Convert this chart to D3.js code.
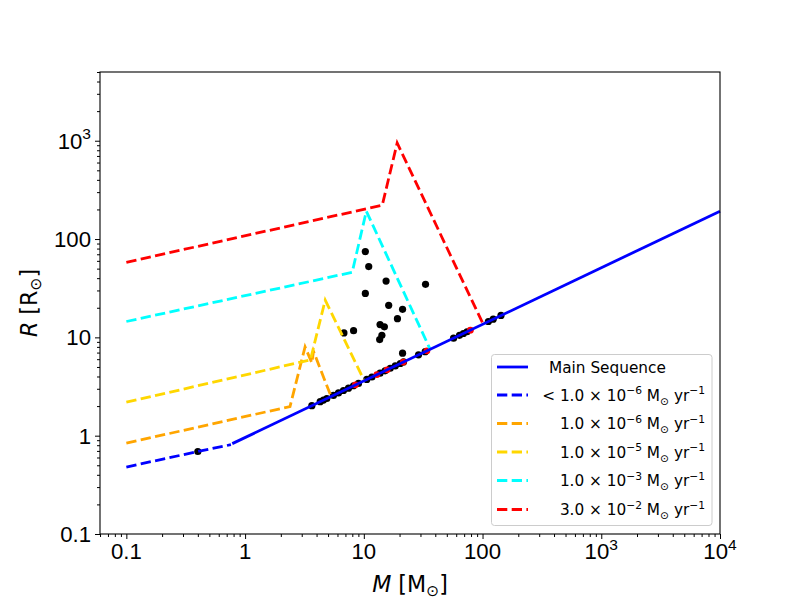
<!DOCTYPE html>
<html>
<head>
<meta charset="utf-8">
<script src="https://cdn.jsdelivr.net/npm/d3@7"></script>
<style>
  body { margin: 0; background: #fff; }
  svg { font-family: "DejaVu Sans", sans-serif; }
</style>
</head>
<body>
<svg id="chart" width="800" height="600"></svg>
<script>
// Main sequence (solid blue)
const msMass = [0.78, 10000];
const msRadius = [0.83, 192];

// Accretion tracks, one pair of arrays per rate
const lowMass = [0.1, 0.4, 0.76];
const lowRadius = [0.48, 0.69, 0.81];

const rate6Mass = [0.1, 2.39, 3.2, 3.65, 3.77, 5.3];
const rate6Radius = [0.84, 1.98, 8.0, 5.5, 7.2, 2.5];

const rate5Mass = [0.1, 3.55, 4.73, 10.0];
const rate5Radius = [2.19, 5.9, 23.9, 3.7];

const rate3Mass = [0.1, 7.98, 10.5, 36.3];
const rate3Radius = [14.5, 45.9, 192, 7.5];

const rate2Mass = [0.1, 14.3, 19.1, 99.6];
const rate2Radius = [58, 221, 948, 14.2];

// Observed stars, black dots (off and on the main sequence)
const starMass = [10.3, 11.0, 15.4, 10.3, 33.1, 16.2, 21.2, 19.2, 13.7, 14.9, 14.2, 13.6, 8.2, 6.8, 21.2,
  0.4, 3.65, 4.29, 4.57, 4.88, 5.55, 6.12, 6.74, 7.43, 8.19, 9.02, 10.6, 11.7, 13.7, 15.1, 16.7, 18.4,
  20.3, 21.6, 28.9, 32.9, 57, 64, 69, 74, 112, 123, 143];
const starRadius = [74.6, 52.5, 37.4, 28.0, 34.6, 21.2, 19.3, 15.5, 13.5, 12.8, 10.5, 9.5, 11.7, 11.1, 6.9,
  0.69, 2.02, 2.22, 2.30, 2.39, 2.57, 2.72, 2.88, 3.04, 3.22, 3.40, 3.73, 3.95, 4.32, 4.57, 4.85, 5.12,
  5.42, 5.62, 6.64, 7.15, 9.81, 10.5, 10.95, 11.4, 14.5, 15.3, 16.7];

// red markers sitting on the main sequence
const redMass = [8.5, 12.9, 15.7, 21.5, 34.0, 79.0];
const redRadius = [3.29, 4.18, 4.68, 5.60, 7.29, 11.84];

const xMajor = [0.1, 1, 10, 100, 1000, 10000];
const xTickLabels = ["0.1", "1", "10", "100", "10^3", "10^4"];
const yMajor = [0.1, 1, 10, 100, 1000];
const yTickLabels = ["0.1", "1", "10", "100", "10^3"];

const legendNames = ["Main Sequence", "< 1.0 × 10^-6", "1.0 × 10^-6", "1.0 × 10^-5", "1.0 × 10^-3", "3.0 × 10^-2"];

function zip(a, b) {
  return a.map(function(v, i) { return [v, b[i]]; });
}

const tracks = [
  { pts: zip(lowMass, lowRadius), color: "blue" },
  { pts: zip(rate6Mass, rate6Radius), color: "orange" },
  { pts: zip(rate5Mass, rate5Radius), color: "gold" },
  { pts: zip(rate3Mass, rate3Radius), color: "cyan" },
  { pts: zip(rate2Mass, rate2Radius), color: "red" }
];

const dim = { left: 100, right: 720, top: 72, bottom: 534 };
const tickFont = 22.2;
const legFont = 15.3;

svg = d3.select("#chart");

x = d3.scaleLog().domain([Math.pow(10, -1.222), 10000]).range([dim.left, dim.right]);
y = d3.scaleLog().domain([0.1, 5000]).range([dim.bottom, dim.top]);

// minor tick values for a log domain
function minorTicks(scale) {
  const dom = scale.domain();
  const out = [];
  for (let d = -3; d <= 5; d++) {
    for (let k = 2; k <= 9; k++) {
      const v = k * Math.pow(10, d);
      if (v >= dom[0] && v <= dom[1]) out.push(v);
    }
  }
  return out;
}

// write "10^3" style labels with a raised exponent
function powerLabel(sel, str, size) {
  const parts = str.split("^");
  sel.text(parts[0]);
  if (parts.length > 1) {
    sel.append("tspan").attr("dy", -size * 0.42).attr("font-size", size * 0.7).text(parts[1]);
  }
}

const plot = svg.append("g");

// scatter first so the lines sit on top
plot.selectAll(".star")
  .data(zip(starMass, starRadius))
  .enter()
  .append("circle")
  .attr("class", "star")
  .attr("cx", function(d) { return x(d[0]); })
  .attr("cy", function(d) { return y(d[1]); })
  .attr("r", 3.6)
  .attr("fill", "#000");

plot.selectAll(".red")
  .data(zip(redMass, redRadius))
  .enter()
  .append("circle")
  .attr("class", "red")
  .attr("cx", function(d) { return x(d[0]); })
  .attr("cy", function(d) { return y(d[1]); })
  .attr("r", 3.4)
  .attr("fill", "red");

line = d3.line()
  .x(function(d) { return x(d[0]); })
  .y(function(d) { return y(d[1]); });

plot.selectAll(".track")
  .data(tracks)
  .enter()
  .append("path")
  .attr("class", "track")
  .attr("d", function(d) { return line(d.pts); })
  .attr("fill", "none")
  .attr("stroke", function(d) { return d.color; })
  .attr("stroke-width", 2.8)
  .attr("stroke-dasharray", "10.3,4.4");

plot.append("path")
  .attr("d", line(zip(msMass, msRadius)))
  .attr("fill", "none")
  .attr("stroke", "blue")
  .attr("stroke-width", 2.8);

// frame
svg.append("rect")
  .attr("x", dim.left).attr("y", dim.top)
  .attr("width", dim.right - dim.left).attr("height", dim.bottom - dim.top)
  .attr("fill", "none").attr("stroke", "#000").attr("stroke-width", 1.1);

// x axis
xAxis = svg.append("g").attr("transform", "translate(0," + dim.bottom + ")");
xAxis.call(d3.axisBottom(x).tickValues(xMajor).tickSize(5).tickFormat(""));
xAxis.append("g").call(d3.axisBottom(x).tickValues(minorTicks(x)).tickSize(3).tickFormat(""));
xAxis.selectAll(".domain").remove();
xAxis.selectAll("line").attr("stroke", "#000").attr("stroke-width", 1);
xAxis.selectAll(".lbl")
  .data(xMajor)
  .enter()
  .append("text")
  .attr("class", "lbl")
  .attr("x", function(d) { return x(d); })
  .attr("y", 25)
  .attr("text-anchor", "middle")
  .attr("font-size", tickFont)
  .attr("fill", "#000")
  .each(function(d, i) { powerLabel(d3.select(this), xTickLabels[i], tickFont); });

// y axis
yAxis = svg.append("g").attr("transform", "translate(" + dim.left + ",0)");
yAxis.call(d3.axisLeft(y).tickValues(yMajor).tickSize(5).tickFormat(""));
yAxis.append("g").call(d3.axisLeft(y).tickValues(minorTicks(y)).tickSize(3).tickFormat(""));
yAxis.selectAll(".domain").remove();
yAxis.selectAll("line").attr("stroke", "#000").attr("stroke-width", 1);
yAxis.selectAll(".lbl")
  .data(yMajor)
  .enter()
  .append("text")
  .attr("class", "lbl")
  .attr("x", -9)
  .attr("y", function(d) { return y(d) + 8; })
  .attr("text-anchor", "end")
  .attr("font-size", tickFont)
  .attr("fill", "#000")
  .each(function(d, i) { powerLabel(d3.select(this), yTickLabels[i], tickFont); });

// axis titles
xt = svg.append("text")
  .attr("x", (dim.left + dim.right) / 2)
  .attr("y", 592)
  .attr("text-anchor", "middle")
  .attr("font-size", tickFont);
xt.append("tspan").attr("font-style", "italic").text("M");
xt.append("tspan").text(" [M");
xt.append("tspan").attr("dy", 4).attr("font-size", 15.5).text("⊙");
xt.append("tspan").attr("dy", -4).text("]");

yt = svg.append("text")
  .attr("transform", "translate(37," + (dim.top + dim.bottom) / 2 + ") rotate(-90)")
  .attr("text-anchor", "middle")
  .attr("font-size", tickFont);
yt.append("tspan").attr("font-style", "italic").text("R");
yt.append("tspan").text(" [R");
yt.append("tspan").attr("dy", 4).attr("font-size", 15.5).text("⊙");
yt.append("tspan").attr("dy", -4).text("]");

// legend
leg = svg.append("g");
leg.append("rect")
  .attr("x", 491.5).attr("y", 354.5)
  .attr("width", 220.5).attr("height", 171)
  .attr("rx", 3)
  .attr("fill", "#fff").attr("fill-opacity", 0.8)
  .attr("stroke", "#ccc");

const legendColors = ["blue", "blue", "orange", "gold", "cyan", "red"];
const rowY = [367, 395, 423.5, 452, 480.5, 509.5];

legendNames.forEach(function(name, i) {
  leg.append("line")
    .attr("x1", 497).attr("x2", 528)
    .attr("y1", rowY[i]).attr("y2", rowY[i])
    .attr("stroke", legendColors[i])
    .attr("stroke-width", 2.8)
    .attr("stroke-dasharray", i == 0 ? null : "10.3,4.4");
  const t = leg.append("text").attr("font-size", legFont).attr("fill", "#000");
  if (i == 0) {
    t.attr("x", 549).attr("y", rowY[i] + 5.5).text(name);
    return;
  }
  const parts = name.split("^");
  t.attr("x", 705).attr("y", rowY[i] + 5.5).attr("text-anchor", "end");
  t.append("tspan").text(parts[0]);
  t.append("tspan").attr("dy", -6.5).attr("font-size", 10.7).text(parts[1].replace("-", "−"));
  t.append("tspan").attr("dy", 6.5).text(" M");
  t.append("tspan").attr("dy", 4).attr("font-size", 10.7).text("⊙");
  t.append("tspan").attr("dy", -4).text(" yr");
  t.append("tspan").attr("dy", -6.5).attr("font-size", 10.7).text("−1");
});
</script>
</body>
</html>
